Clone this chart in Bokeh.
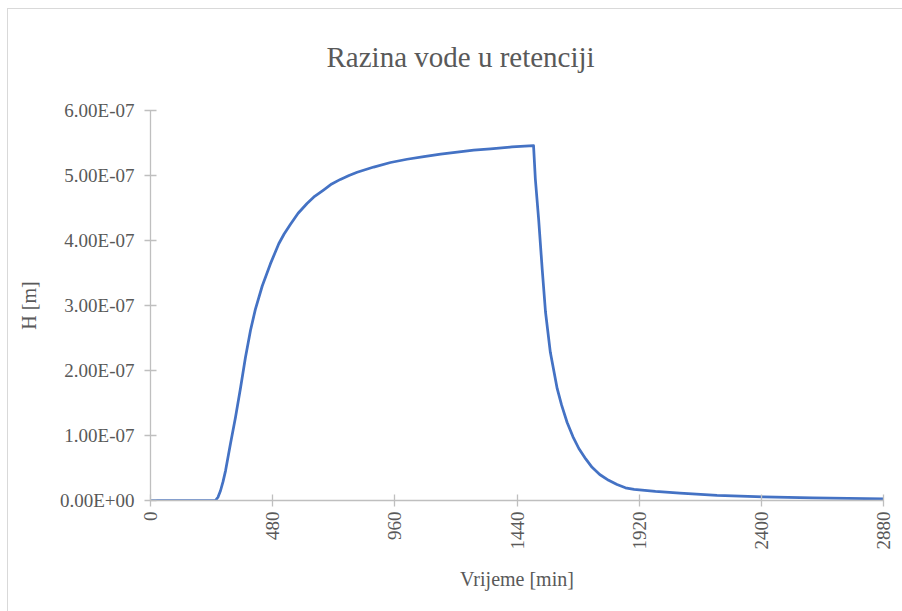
from bokeh.plotting import figure
from bokeh.models import Range1d, FixedTicker, CustomJSTickFormatter, Title
from bokeh.embed import file_html
from bokeh.resources import INLINE
import math

# ---- data ----
time_min = [0, 255, 265, 275, 285, 295, 314, 334, 354, 373, 393, 412, 439, 471,
            504, 525, 550, 580, 615, 645, 681, 712, 746, 780, 812, 877, 943,
            1008, 1074, 1140, 1205, 1270, 1336, 1420, 1505, 1512, 1525, 1539,
            1552, 1571, 1598, 1615, 1637, 1660, 1683, 1710, 1735, 1765, 1800,
            1833, 1866, 1900, 1984, 2080, 2226, 2408, 2600, 2880]
water_level_m = [0.0, 0.0, 0.05e-7, 0.15e-7, 0.29e-7, 0.46e-7, 0.87e-7, 1.28e-7,
                 1.74e-7, 2.20e-7, 2.62e-7, 2.94e-7, 3.30e-7, 3.64e-7, 3.95e-7,
                 4.10e-7, 4.25e-7, 4.42e-7, 4.57e-7, 4.68e-7, 4.78e-7, 4.87e-7,
                 4.94e-7, 5.00e-7, 5.05e-7, 5.13e-7, 5.20e-7, 5.25e-7, 5.29e-7,
                 5.33e-7, 5.36e-7, 5.39e-7, 5.41e-7, 5.44e-7, 5.46e-7, 4.95e-7,
                 4.33e-7, 3.56e-7, 2.90e-7, 2.28e-7, 1.72e-7, 1.47e-7, 1.20e-7,
                 0.98e-7, 0.80e-7, 0.64e-7, 0.51e-7, 0.40e-7, 0.31e-7, 0.245e-7,
                 0.195e-7, 0.17e-7, 0.14e-7, 0.115e-7, 0.08e-7, 0.055e-7,
                 0.04e-7, 0.025e-7]
x_ticks = [0, 480, 960, 1440, 1920, 2400, 2880]
y_ticks = [0.0, 1e-7, 2e-7, 3e-7, 4e-7, 5e-7, 6e-7]

title_text = "Razina vode u retenciji"
x_label = "Vrijeme [min]"
y_label = "H [m]"

FONT = "Liberation Serif"
TICK_FONT = "'Liberation Serif'"
TXT = "#595959"
AXC = "#bfbfbf"
EDGE = "#d9d9d9"

chart_edge = (f"linear-gradient({EDGE}, {EDGE}) 7px 8px / 1px calc(100% - 8px) no-repeat, "
              f"linear-gradient({EDGE}, {EDGE}) 7px 8px / calc(100% - 7px) 1px no-repeat")

p = figure(width=902, height=611, output_backend="svg", toolbar_location=None,
           x_range=Range1d(0, 2880), y_range=Range1d(0, 6e-7),
           min_border_left=150, min_border_right=19, min_border_top=110,
           min_border_bottom=111, title=None,
           styles={"background": chart_edge})
p.outline_line_color = None
p.border_fill_color = None
p.background_fill_color = None
p.grid.visible = False

t = Title(text=title_text, align="left", offset=176, standoff=75,
          text_font=FONT, text_font_size="29px", text_color=TXT,
          text_font_style="normal")
p.add_layout(t, "above")

p.line(time_min, water_level_m, line_color="#4472C4", line_width=2.75,
       line_join="round", line_cap="round")

fmt = CustomJSTickFormatter(code="""
var s = tick.toExponential(2).toUpperCase();
var parts = s.split("E");
var e = parseInt(parts[1]);
var sign = e < 0 ? "-" : "+";
var a = Math.abs(e);
return parts[0] + "E" + sign + (a < 10 ? "0" : "") + a;
""")

for ax in (p.xaxis[0], p.yaxis[0]):
    ax.axis_line_color = AXC
    ax.axis_line_width = 1.3
    ax.major_tick_line_color = AXC
    ax.major_tick_line_width = 1.3
    ax.minor_tick_line_color = None
    ax.major_tick_in = 6
    ax.major_tick_out = 6
    ax.major_label_text_font = TICK_FONT
    ax.major_label_text_font_size = "19px"
    ax.major_label_text_color = TXT
    ax.axis_label_text_font = FONT
    ax.axis_label_text_font_size = "20px"
    ax.axis_label_text_color = TXT
    ax.axis_label_text_font_style = "normal"

p.xaxis[0].ticker = FixedTicker(ticks=x_ticks)
p.xaxis[0].major_label_orientation = math.pi / 2
p.xaxis[0].major_label_standoff = 5
p.xaxis[0].axis_label = x_label
p.xaxis[0].axis_label_standoff = 15

p.yaxis[0].ticker = FixedTicker(ticks=y_ticks)
p.yaxis[0].formatter = fmt
p.yaxis[0].major_label_standoff = 10
p.yaxis[0].axis_label = y_label
p.yaxis[0].axis_label_standoff = 17

open("out.html", "w").write(file_html(p, INLINE))
